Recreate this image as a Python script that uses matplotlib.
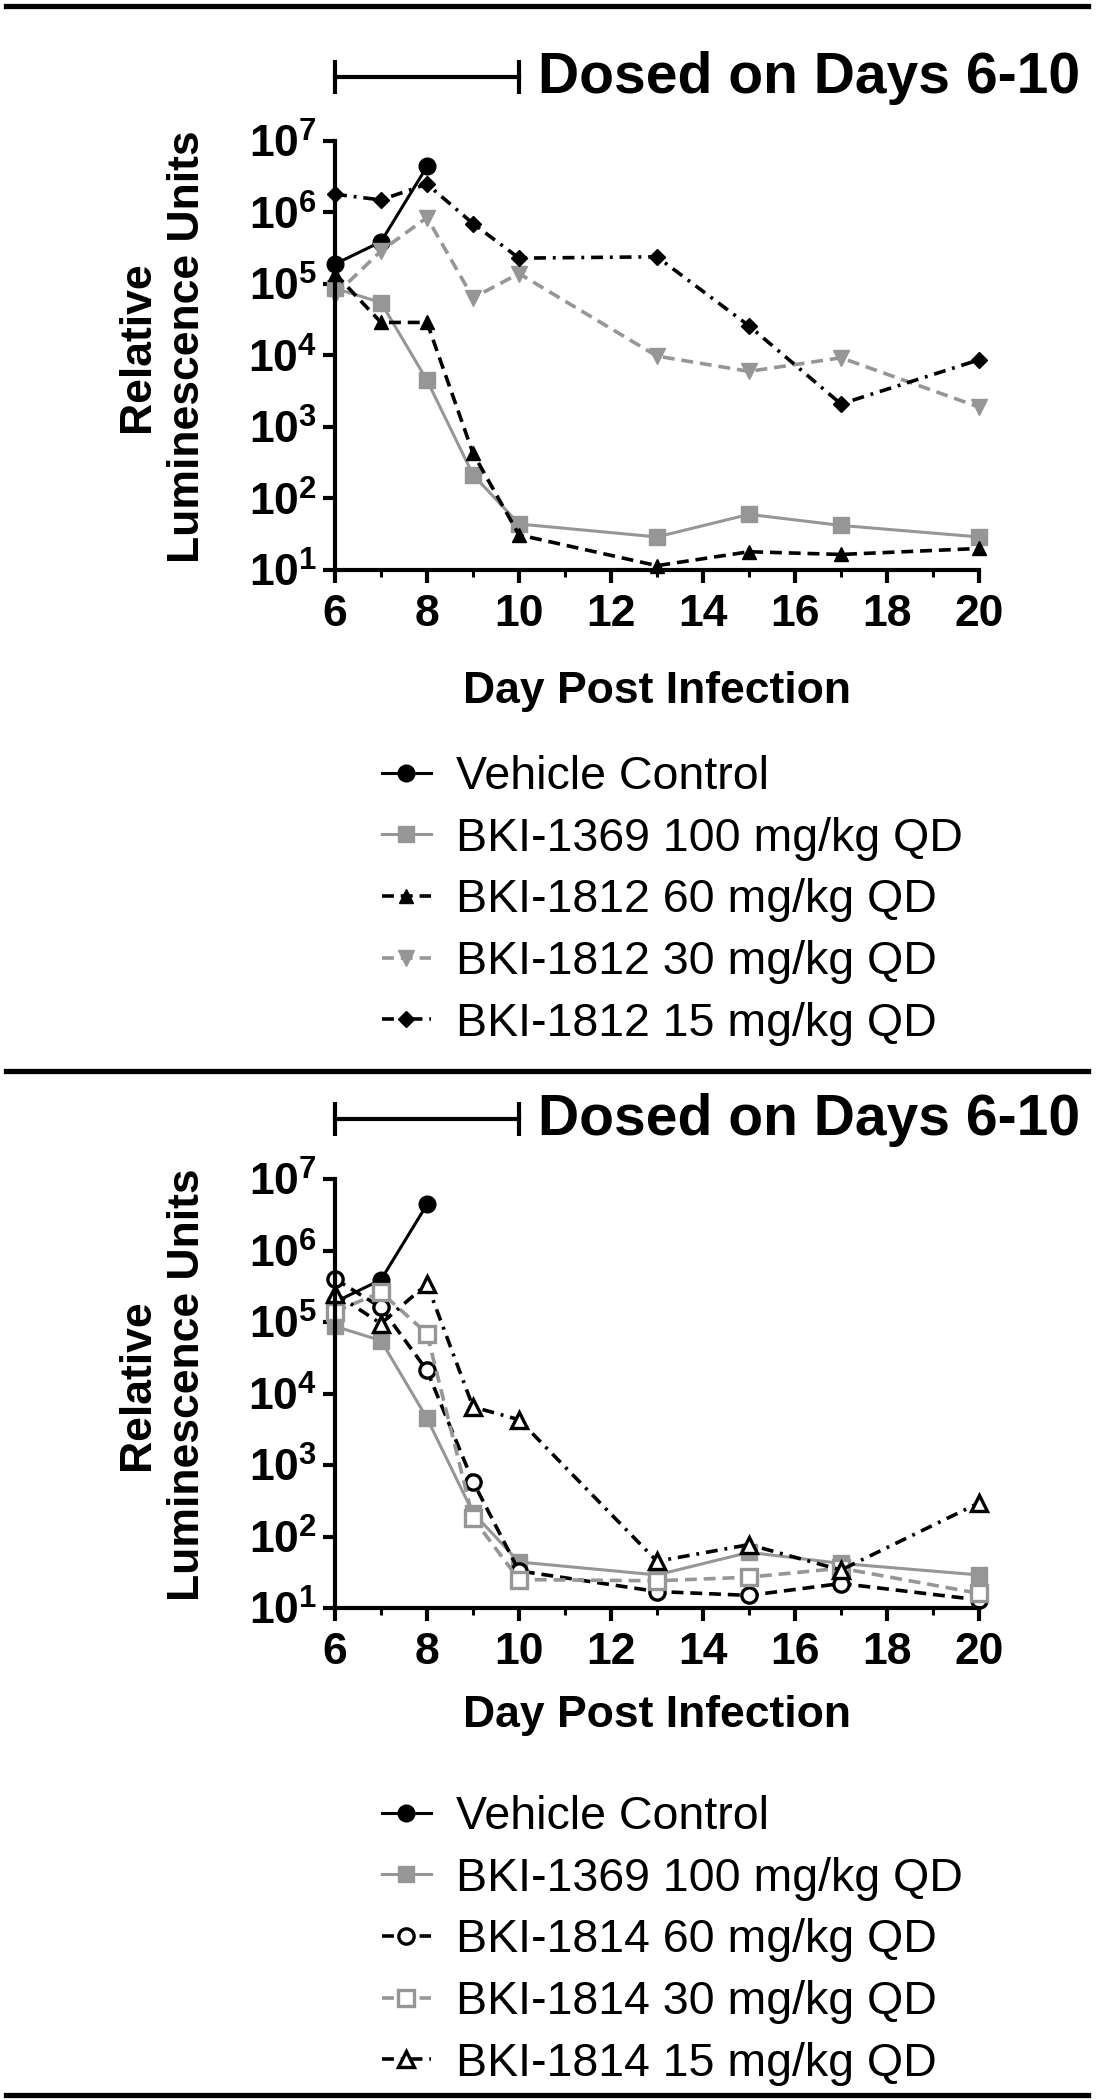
import numpy as np
import matplotlib
matplotlib.use("Agg")
import matplotlib.pyplot as plt
from matplotlib import ticker
from matplotlib.lines import Line2D
import matplotlib.transforms as mtransforms

plt.rcParams['font.family'] = ['Liberation Sans', 'DejaVu Sans']
plt.rcParams['mathtext.fontset'] = 'custom'
plt.rcParams['mathtext.rm'] = 'Liberation Sans'
plt.rcParams['mathtext.bf'] = 'Liberation Sans:bold'

# data
days = [6, 7, 8, 9, 10, 13, 15, 17, 20]
vehicle_days = [6, 7, 8]
vehicle = [1.9e5, 3.9e5, 4.4e6]
bki1369 = [8.7e4, 5.5e4, 4.5e3, 215, 44, 29, 60, 42, 29]
bki1812_60 = [1.4e5, 2.9e4, 2.9e4, 430, 31, 11.5, 18, 16.5, 20]
bki1812_30 = [7e4, 2.9e5, 8.5e5, 6.4e4, 1.4e5, 9.8e3, 6e3, 9.3e3, 1.9e3]
bki1812_15 = [1.8e6, 1.5e6, 2.5e6, 7e5, 2.3e5, 2.4e5, 2.6e4, 2.1e3, 8.7e3]
bki1814_60 = [4e5, 1.6e5, 2.1e4, 585, 33, 17, 15, 22, 13]
bki1814_30 = [1.4e5, 2.6e5, 6.9e4, 180, 25, 24, 27, 36, 16]
bki1814_15 = [2.5e5, 9.5e4, 3.4e5, 6.5e3, 4.3e3, 45, 77, 34, 295]

labels_top = ["Vehicle Control", "BKI-1369 100 mg/kg QD", "BKI-1812 60 mg/kg QD",
              "BKI-1812 30 mg/kg QD", "BKI-1812 15 mg/kg QD"]
labels_bot = ["Vehicle Control", "BKI-1369 100 mg/kg QD", "BKI-1814 60 mg/kg QD",
              "BKI-1814 30 mg/kg QD", "BKI-1814 15 mg/kg QD"]
dose_days = [6, 10]
xticks = [6, 8, 10, 12, 14, 16, 18, 20]

GRAY = '#969696'
W, H = 1120, 2100
fig = plt.figure(figsize=(W / 100, H / 100), dpi=100)

DASH = (3.3, 1.9)
DASHDOT = (3.3, 1.9, 0.8, 1.9)


def style_axes(ax):
    ax.set_yscale('log')
    ax.set_xlim(6, 20)
    ax.set_ylim(10, 1e7)
    for s in ['top', 'right']:
        ax.spines[s].set_visible(False)
    for s in ['left', 'bottom']:
        ax.spines[s].set_linewidth(3.0)
    ax.set_xticks(xticks)
    ax.set_xticks([7, 9, 11, 13, 15, 17, 19], minor=True)
    ax.set_yticks([10.0 ** k for k in range(1, 8)])
    ax.yaxis.set_minor_locator(ticker.LogLocator(base=10, subs=np.arange(2, 10)))
    ax.yaxis.set_minor_formatter(ticker.NullFormatter())
    ax.yaxis.set_major_formatter(ticker.FuncFormatter(
        lambda v, p: r'$\mathbf{10^{%d}}$' % round(np.log10(v))))
    ax.tick_params(axis='both', which='major', width=3.0, length=9,
                   labelsize=32, direction='out')
    ax.tick_params(axis='both', which='minor', width=2.2, length=5, direction='out')
    ax.tick_params(axis='x', pad=8)
    ax.tick_params(axis='y', pad=4)
    for t in ax.get_xticklabels():
        t.set_fontweight('bold')


def dose_bar(ax, yfrac, text_y):
    tr = mtransforms.blended_transform_factory(ax.transData, ax.transAxes)
    ax.plot(dose_days, [yfrac, yfrac], color='black', lw=3.0, transform=tr,
            clip_on=False)
    ax.plot(dose_days, [yfrac, yfrac], ls='none', marker='|', ms=24, mew=3.0,
            color='black', transform=tr, clip_on=False)
    fig.text(538 / W, 1 - text_y / H, "Dosed on Days 6-10", fontsize=41,
             fontweight='bold', ha='left', va='center')


def labels(ax, xlab_y):
    ax.set_ylabel("Relative\nLuminescence Units", fontsize=32, fontweight='bold',
                  linespacing=1.3)
    ax.yaxis.set_label_coords(-0.197, 0.52)
    ax.set_xlabel("Day Post Infection", fontsize=32, fontweight='bold')
    ax.xaxis.set_label_coords(0.5, xlab_y)


def hline(y):
    fig.add_artist(Line2D([6 / W, 1088 / W], [1 - y / H, 1 - y / H],
                          color='black', lw=3.8))


def legend(handles, top_y):
    fig.legend(handles=handles, loc='upper left', bbox_to_anchor=(382 / W, 1 - top_y / H),
               frameon=False, fontsize=33.5, handlelength=1.05, handletextpad=0.55,
               labelspacing=0.38, borderpad=0, borderaxespad=0)


# ---- top panel ----
ax1 = fig.add_axes([335 / W, 1 - 570 / H, 644 / W, 429 / H])
style_axes(ax1)
h = []
h += ax1.plot(vehicle_days, vehicle, color='black', lw=2.2, marker='o', ms=12,
              clip_on=False, label=labels_top[0])
h += ax1.plot(days, bki1369, color=GRAY, lw=2.2, marker='s', ms=11,
              clip_on=False, label=labels_top[1])
h += ax1.plot(days, bki1812_60, color='black', lw=2.6, dashes=DASH, marker='^',
              ms=10, clip_on=False, label=labels_top[2])
h += ax1.plot(days, bki1812_30, color=GRAY, lw=2.6, dashes=DASH, marker='v',
              ms=11, clip_on=False, label=labels_top[3])
h += ax1.plot(days, bki1812_15, color='black', lw=2.6, dashes=DASHDOT, marker='D',
              ms=8, clip_on=False, label=labels_top[4])
dose_bar(ax1, 1.149, 78)
labels(ax1, -0.236)
legend(h, 755)

# ---- bottom panel ----
ax2 = fig.add_axes([335 / W, 1 - 1608 / H, 644 / W, 429 / H])
style_axes(ax2)
h = []
h += ax2.plot(vehicle_days, vehicle, color='black', lw=2.2, marker='o', ms=12,
              clip_on=False, label=labels_bot[0])
h += ax2.plot(days, bki1369, color=GRAY, lw=2.2, marker='s', ms=11,
              clip_on=False, label=labels_bot[1])
h += ax2.plot(days, bki1814_60, color='black', lw=2.6, dashes=DASH, marker='o',
              ms=11, mfc='white', mew=2.4, clip_on=False, label=labels_bot[2])
h += ax2.plot(days, bki1814_30, color=GRAY, lw=2.6, dashes=DASH, marker='s',
              ms=11, mfc='white', mew=2.4, clip_on=False, label=labels_bot[3])
h += ax2.plot(days, bki1814_15, color='black', lw=2.6, dashes=DASHDOT, marker='^',
              ms=11, mfc='white', mew=2.4, clip_on=False, label=labels_bot[4])
dose_bar(ax2, 1.14, 1120)
labels(ax2, -0.202)
legend(h, 1795)

hline(6)
hline(1071)
hline(2095)

fig.savefig("out.png", dpi=100)
